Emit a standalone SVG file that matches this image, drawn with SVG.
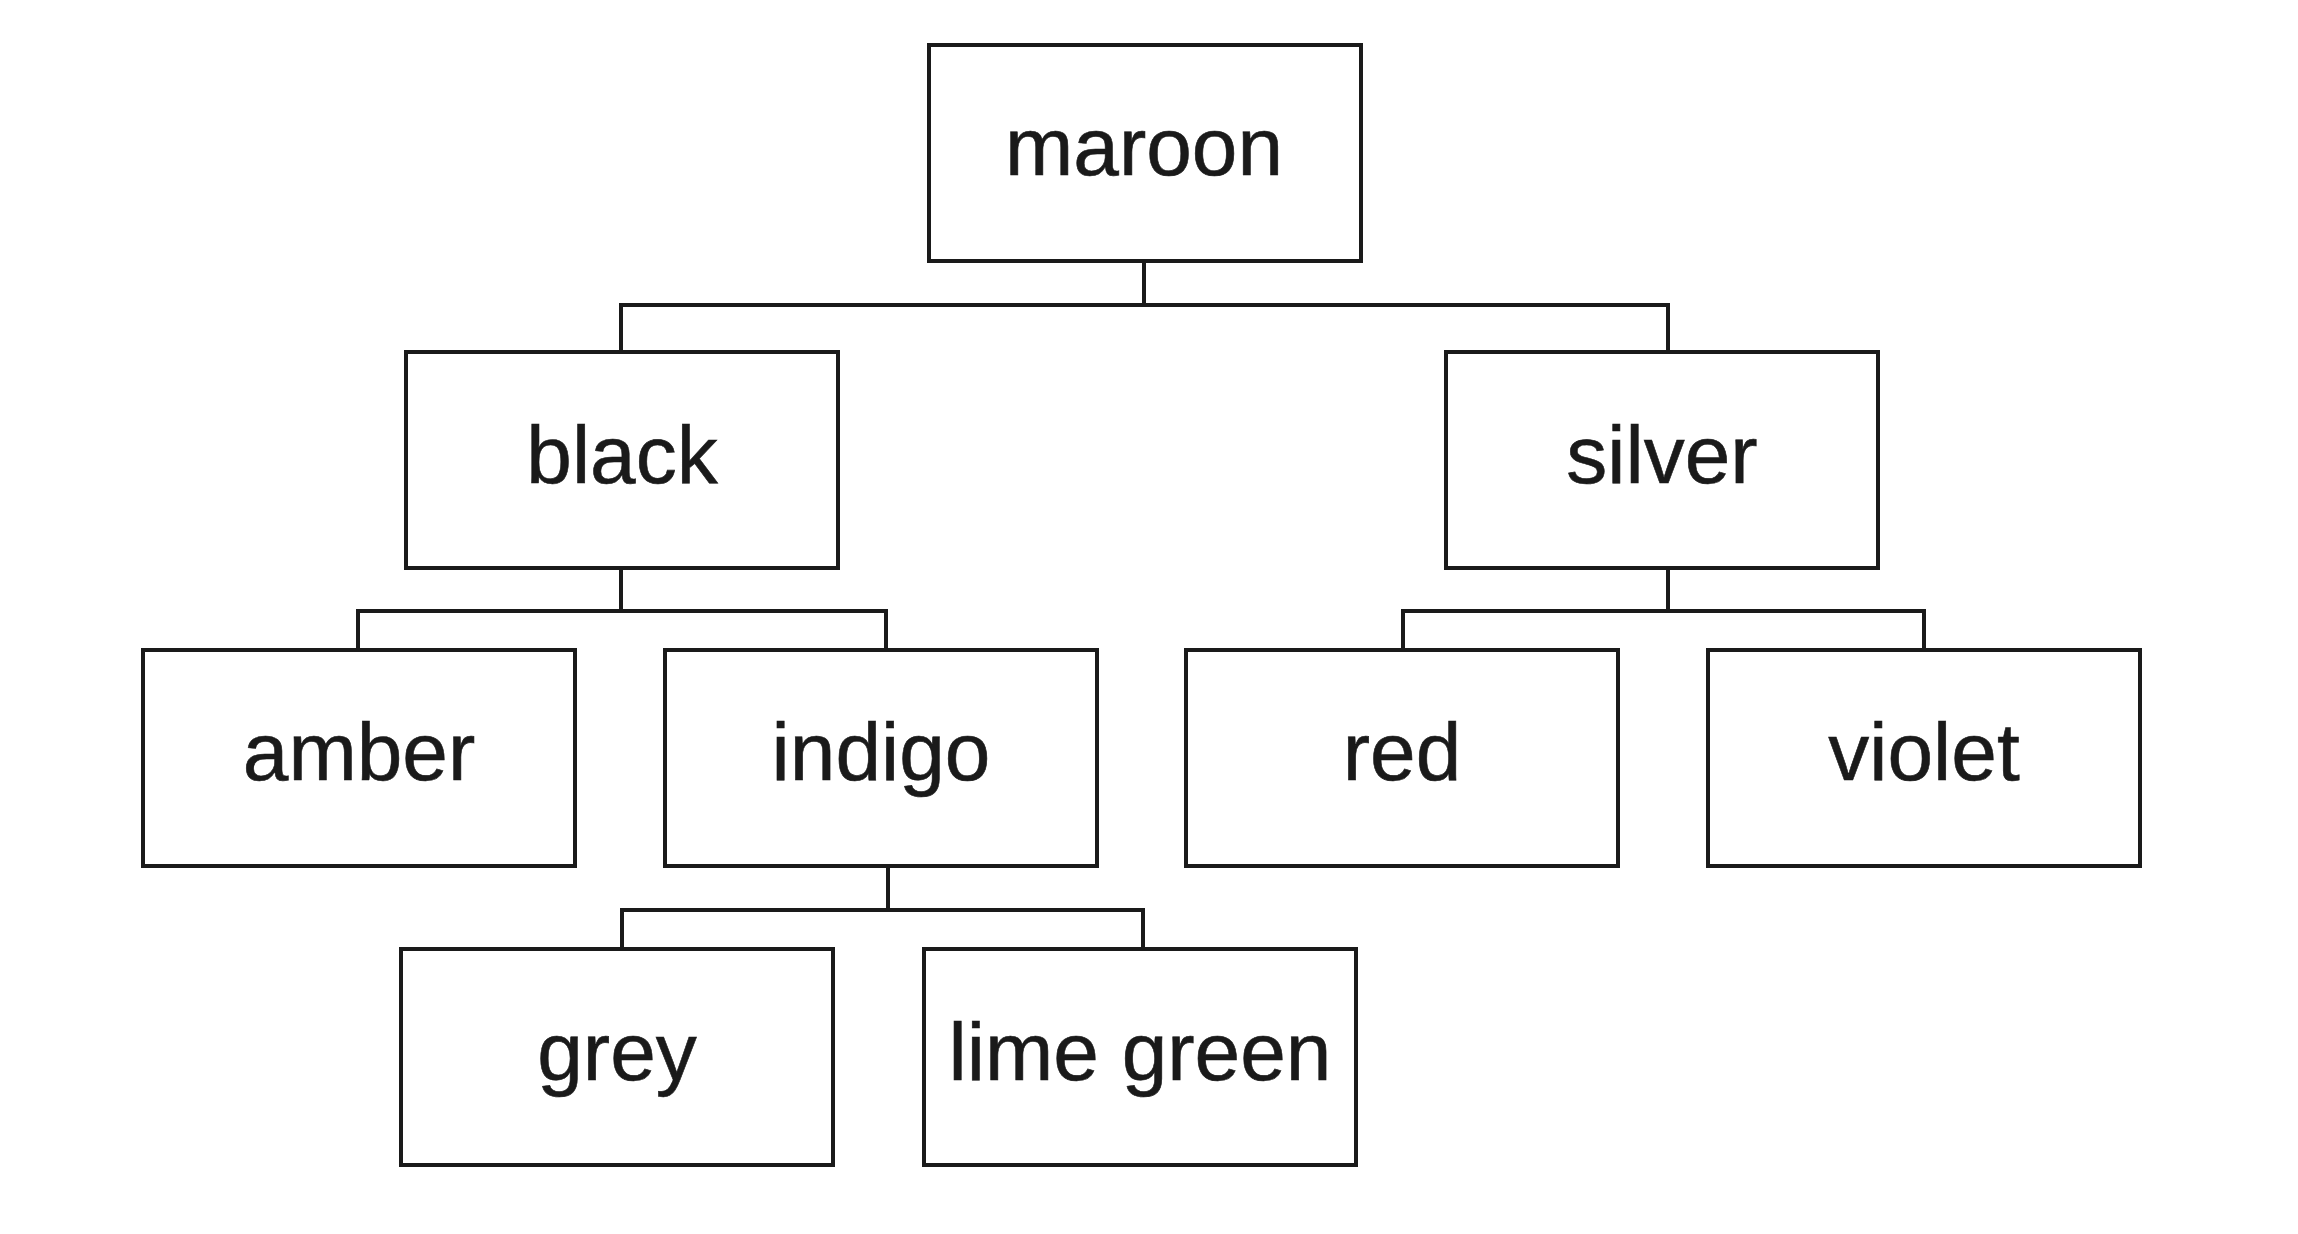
<svg xmlns="http://www.w3.org/2000/svg" width="2298" height="1234" viewBox="0 0 2298 1234">
<style>
.box{fill:#ffffff;stroke:#1a1a1a;stroke-width:4}
.lbl{font-family:"Liberation Sans",Arial,sans-serif;font-size:82px;fill:#1a1a1a;stroke:#1a1a1a;stroke-width:0.6;text-anchor:middle}
.con{fill:none;stroke:#1a1a1a;stroke-width:4}
</style>
<rect width="2298" height="1234" fill="#ffffff"/>
<g id="connectors">
<path class="con" d="M1144 261V305M621 352V305H1668V352"/>
<path class="con" d="M621 567V611M358 649V611H886V649"/>
<path class="con" d="M1668 567V611M1403 649V611H1924V649"/>
<path class="con" d="M888 866V910M622 948V910H1143V948"/>
</g>
<g id="maroon"><rect class="box" x="929" y="45" width="432" height="216"/><text class="lbl" x="1144" y="175">maroon</text></g>
<g id="black"><rect class="box" x="406" y="352" width="432" height="216"/><text class="lbl" x="622" y="483">black</text></g>
<g id="silver"><rect class="box" x="1446" y="352" width="432" height="216"/><text class="lbl" x="1662" y="483">silver</text></g>
<g id="amber"><rect class="box" x="143" y="650" width="432" height="216"/><text class="lbl" x="359" y="780">amber</text></g>
<g id="indigo"><rect class="box" x="665" y="650" width="432" height="216"/><text class="lbl" x="881" y="780">indigo</text></g>
<g id="red"><rect class="box" x="1186" y="650" width="432" height="216"/><text class="lbl" x="1402" y="780">red</text></g>
<g id="violet"><rect class="box" x="1708" y="650" width="432" height="216"/><text class="lbl" x="1924" y="780">violet</text></g>
<g id="grey"><rect class="box" x="401" y="949" width="432" height="216"/><text class="lbl" x="617" y="1080">grey</text></g>
<g id="lime_green"><rect class="box" x="924" y="949" width="432" height="216"/><text class="lbl" x="1140" y="1080">lime green</text></g>
</svg>
